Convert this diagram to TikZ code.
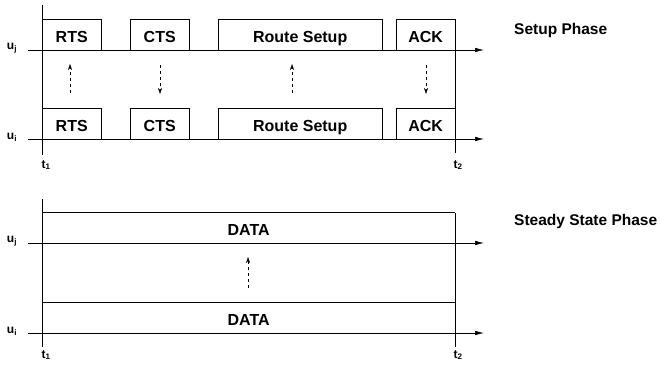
\documentclass[tikz,border=0pt]{standalone}
\usepackage{fontspec}
\setmainfont{Liberation Sans}
\usetikzlibrary{arrows.meta}

\begin{document}
\begin{tikzpicture}[x=1pt,y=-1pt,
  msg/.style={inner sep=0pt,minimum height=30pt,anchor=south west,text height=16pt,text depth=0pt,
    font=\fontsize{16}{18}\selectfont\bfseries},
  box/.style={line width=1pt},
  axis/.style={line width=0.6pt,-{Latex[length=9pt,width=4.5pt]}},
  tline/.style={line width=0.6pt},
  sig/.style={dash pattern=on 3pt off 3pt,line width=0.5pt,-{Stealth[length=6pt,width=4pt]}},
  lbl/.style={font=\fontsize{12}{14}\selectfont\bfseries,inner sep=0pt},
  phase/.style={anchor=west,inner sep=0pt,font=\fontsize{15.5}{18}\selectfont\bfseries}]
\useasboundingbox (0,0) rectangle (661,371);
% setup phase
\draw[tline] (42,5) -- (42,155);
\draw[tline] (455,20) -- (455,153);
\node[lbl] (uj) at (12,48) {u\textsubscript{j}};
\node[lbl] (ui) at (12,137) {u\textsubscript{i}};
\node[lbl] (ta) at (46,165) {t\textsubscript{1}};
\node[lbl] (tb) at (458,165) {t\textsubscript{2}};
\node[msg,minimum width=59pt] (rtsj) at (42,50) {RTS};
\node[msg,minimum width=59pt] (ctsj) at (130,50) {CTS};
\node[msg,minimum width=164pt] (rsj) at (218,50) {Route Setup};
\node[msg,minimum width=59pt] (ackj) at (396,50) {ACK};
\node[msg,minimum width=59pt] (rtsi) at (42,139) {RTS};
\node[msg,minimum width=59pt] (ctsi) at (130,139) {CTS};
\node[msg,minimum width=164pt] (rsi) at (218,139) {Route Setup};
\node[msg,minimum width=59pt] (acki) at (396,139) {ACK};
\foreach \b in {rtsj,ctsj,rsj,ackj,rtsi,ctsi,rsi,acki}
  \draw[box] (\b.south west) |- (\b.north east) -- (\b.south east);
\coordinate (ujs) at (28,50);
\coordinate (uje) at (484,50);
\coordinate (uis) at (28,139);
\coordinate (uie) at (484,139);
\draw[axis] (ujs) -- (uje);
\draw[axis] (uis) -- (uie);
\coordinate (s1) at (70,93);
\coordinate (e1) at (70,64);
\coordinate (s2) at (160,65);
\coordinate (e2) at (160,94);
\coordinate (s3) at (292,93);
\coordinate (e3) at (292,64);
\coordinate (s4) at (426,65);
\coordinate (e4) at (426,94);
\draw[sig] (s1) -- (e1);
\draw[sig] (s2) -- (e2);
\draw[sig] (s3) -- (e3);
\draw[sig] (s4) -- (e4);
\node[phase] (setup) at (514,30) {Setup Phase};
% steady state phase
\draw[tline] (42,199) -- (42,347);
\draw[tline] (455,213) -- (455,347);
\node[lbl] (uj2) at (12,241) {u\textsubscript{j}};
\node[lbl] (ui2) at (12,331) {u\textsubscript{i}};
\node[lbl] (ta2) at (46,355) {t\textsubscript{1}};
\node[lbl] (tb2) at (458,355) {t\textsubscript{2}};
\node[msg,minimum width=413pt] (dataj) at (42,243) {DATA};
\node[msg,minimum width=413pt] (datai) at (42,333) {DATA};
\draw[box] (dataj.south west) |- (dataj.north east);
\draw[box] (datai.south west) |- (datai.north east);
\coordinate (ujs2) at (28,243);
\coordinate (uje2) at (484,243);
\coordinate (uis2) at (28,333);
\coordinate (uie2) at (484,333);
\draw[axis] (ujs2) -- (uje2);
\draw[axis] (uis2) -- (uie2);
\coordinate (s5) at (248,288);
\coordinate (e5) at (248,257);
\draw[sig] (s5) -- (e5);
\node[phase] (steady) at (514,221) {Steady State Phase};
\end{tikzpicture}
\end{document}
